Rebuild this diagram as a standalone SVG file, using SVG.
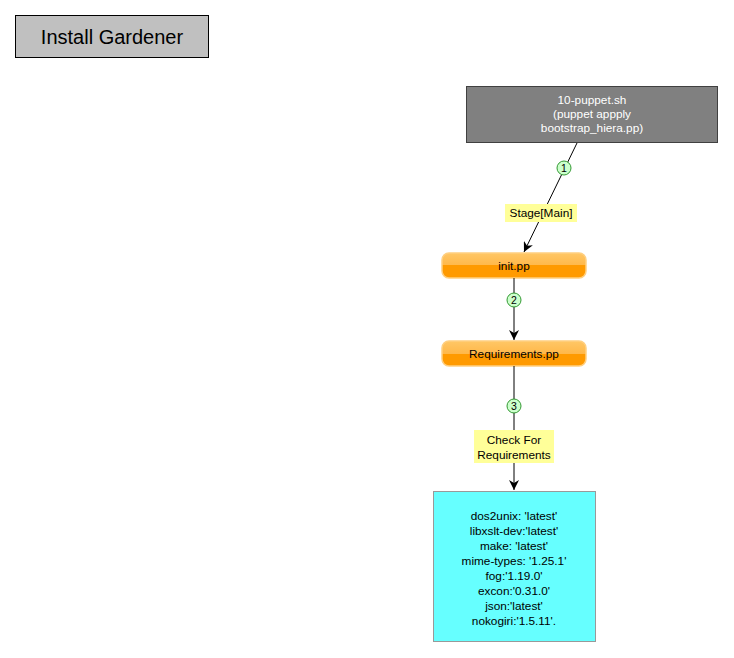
<svg xmlns="http://www.w3.org/2000/svg" width="734" height="658" viewBox="0 0 734 658">
<defs>
<linearGradient id="og" x1="0" y1="0" x2="0" y2="1">
<stop offset="0" stop-color="#ffc766"/>
<stop offset="0.5" stop-color="#ffb84a"/>
<stop offset="0.5" stop-color="#ff9a00"/>
<stop offset="1" stop-color="#ff9a00"/>
</linearGradient>
<marker id="arr" viewBox="0 0 10 10" refX="10" refY="5" markerWidth="10" markerHeight="10" markerUnits="userSpaceOnUse" orient="auto">
<path d="M0,0 L10,5 L0,10 L3,5 Z" fill="#000"/>
</marker>
<style>
text{font-family:"Liberation Sans",Arial,sans-serif;font-size:11.8px;text-anchor:middle;fill:#000}
.pill{fill:url(#og);stroke:#ffcf80;stroke-width:1.5}
.edge{stroke:#000;stroke-width:1;fill:none;marker-end:url(#arr)}
.num{fill:#ccffcc;stroke:#339933;stroke-width:1}
.lbl{fill:#ffff99}
.w{fill:#fff}
</style>
</defs>
<g id="title">
<rect x="15.5" y="15.5" width="193" height="42" fill="#c0c0c0" stroke="#000"/>
<text x="112" y="44" style="font-size:20px">Install Gardener</text>
</g>
<g id="puppet">
<rect x="466.5" y="86.5" width="251" height="56" fill="#808080" stroke="#404040"/>
<text class="w" x="592" y="104">10-puppet.sh</text>
<text class="w" x="592" y="118">(puppet appply</text>
<text class="w" x="592" y="132">bootstrap_hiera.pp)</text>
</g>
<g id="init">
<rect class="pill" x="442" y="253" width="144" height="25" rx="7"/>
<text x="514" y="270">init.pp</text>
</g>
<g id="requirements">
<rect class="pill" x="442" y="341" width="144" height="25" rx="7"/>
<text x="514" y="358">Requirements.pp</text>
</g>
<g id="packages">
<rect x="433.5" y="491.5" width="162" height="150" fill="#66ffff" stroke="#999"/>
<text x="514" y="520">dos2unix: 'latest'</text>
<text x="514" y="535">libxslt-dev:'latest'</text>
<text x="514" y="550">make: 'latest'</text>
<text x="514" y="565">mime-types: '1.25.1'</text>
<text x="514" y="580">fog:'1.19.0'</text>
<text x="514" y="595">excon:'0.31.0'</text>
<text x="514" y="610">json:'latest'</text>
<text x="514" y="625">nokogiri:'1.5.11'.</text>
</g>
<g id="connectors">
<path class="edge" d="M577,143 L524,252"/>
<path class="edge" d="M514,278 L514,340"/>
<path class="edge" d="M514,366 L514,490"/>
<circle class="num" cx="564" cy="168" r="7"/>
<text x="564" y="172" style="font-size:10.5px">1</text>
<rect class="lbl" x="505" y="204" width="72" height="18"/>
<text x="541" y="217">Stage[Main]</text>
<circle class="num" cx="514" cy="300" r="7"/>
<text x="514" y="304" style="font-size:10.5px">2</text>
<circle class="num" cx="514" cy="406" r="7"/>
<text x="514" y="410" style="font-size:10.5px">3</text>
<rect class="lbl" x="474" y="430" width="80" height="33"/>
<text x="514" y="444">Check For</text>
<text x="514" y="459">Requirements</text>
</g>
</svg>
